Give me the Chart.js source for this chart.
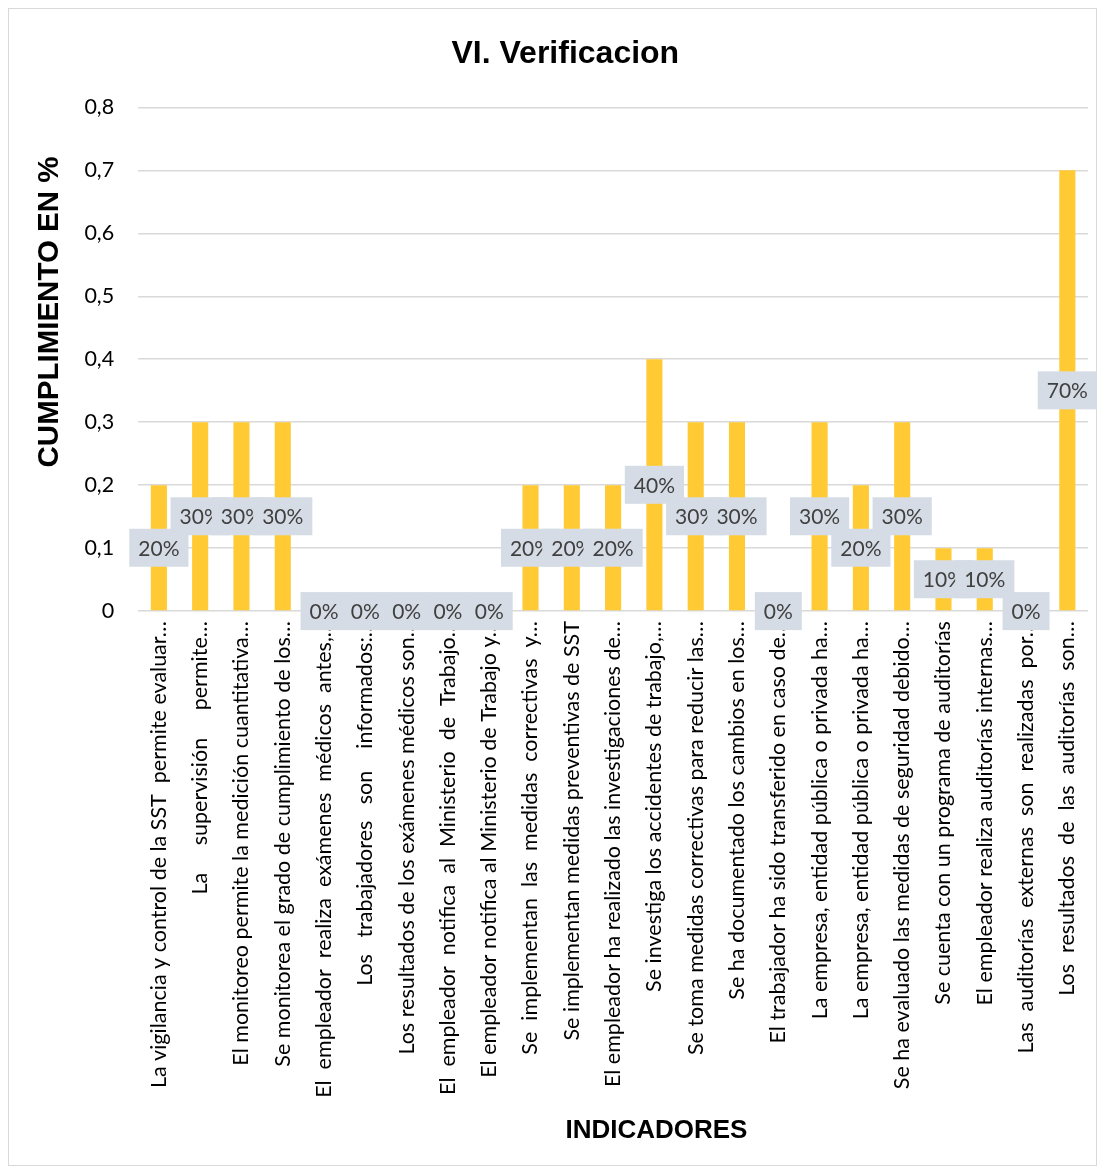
<!DOCTYPE html>
<html>
<head>
<meta charset="utf-8">
<script src="https://cdn.jsdelivr.net/npm/chart.js@4"></script>
<style>
  html, body { margin: 0; padding: 0; background: #fff; }
  #wrap { position: relative; width: 1105px; height: 1171px; }
</style>
</head>
<body>
<div id="wrap"><canvas id="myChart" width="1105" height="1171"></canvas></div>
<script>
// Indicator labels (as truncated in the original)
const indicadores = [
    'La vigilancia y control de la SST  permite evaluar…',
    'La     supervisión     permite…',
    'El monitoreo permite la medición cuantitativa…',
    'Se monitorea el grado de cumplimiento de los…',
    'El  empleador  realiza  exámenes  médicos  antes,…',
    'Los   trabajadores   son    informados:…',
    'Los resultados de los exámenes médicos son…',
    'El  empleador  notifica  al  Ministerio  de  Trabajo…',
    'El empleador notifica al Ministerio de Trabajo y…',
    'Se  implementan  las  medidas  correctivas  y…',
    'Se implementan medidas preventivas de SST',
    'El empleador ha realizado las investigaciones de…',
    'Se investiga los accidentes de trabajo,…',
    'Se toma medidas correctivas para reducir las…',
    'Se ha documentado los cambios en los…',
    'El trabajador ha sido transferido en caso de…',
    'La empresa, entidad pública o privada ha…',
    'La empresa, entidad pública o privada ha…',
    'Se ha evaluado las medidas de seguridad debido…',
    'Se cuenta con un programa de auditorías',
    'El empleador realiza auditorías internas…',
    'Las  auditorías  externas  son  realizadas  por…',
    'Los  resultados  de  las  auditorías  son…'
];

// Compliance values (fraction)
const cumplimiento = [0.2, 0.3, 0.3, 0.3, 0, 0, 0, 0, 0, 0.2, 0.2, 0.2, 0.4, 0.3, 0.3, 0, 0.3, 0.2, 0.3, 0.1, 0.1, 0, 0.7];

const yMin = 0, yMax = 0.8, yStep = 0.1;

// Outer frame around the whole chart
const framePlugin = {
    id: 'frame',
    beforeDraw(chart) {
        const c = chart.ctx;
        c.save();
        c.fillStyle = '#ffffff';
        c.fillRect(0, 0, chart.width, chart.height);
        c.strokeStyle = '#d9d9d9';
        c.lineWidth = 1;
        c.strokeRect(8.5, 8.5, chart.width - 17, chart.height - 14);
        c.restore();
    }
};

// Percentage labels in grey boxes, centered on each bar
const boxLabels = {
    id: 'boxLabels',
    afterDatasetsDraw(chart) {
        const c = chart.ctx;
        const meta = chart.getDatasetMeta(0);
        c.save();
        c.font = '21px Lato';
        c.textAlign = 'center';
        c.textBaseline = 'middle';
        meta.data.forEach((bar, i) => {
            const txt = Math.round(cumplimiento[i] * 100) + '%';
            const w = c.measureText(txt).width + 18;
            const h = 38;
            const cy = (bar.y + bar.base) / 2;
            c.fillStyle = '#d6dce5';
            c.fillRect(bar.x - w / 2, cy - h / 2, w, h);
            c.fillStyle = '#404040';
            c.fillText(txt, bar.x, cy + 1);
        });
        c.restore();
    }
};

let ctx = document.getElementById('myChart').getContext('2d');
let myChart = new Chart(ctx, {
    type: 'bar',
    data: {
        labels: indicadores,
        datasets: [{
            label: 'Cumplimiento',
            data: cumplimiento,
            backgroundColor: '#ffca33',
            borderWidth: 0,
            categoryPercentage: 1,
            barPercentage: 0.39
        }]
    },
    plugins: [framePlugin, boxLabels],
    options: {
        responsive: false,
        animation: false,
        layout: {
            padding: { left: 16, right: 17, top: 0, bottom: 12 }
        },
        plugins: {
            legend: { display: false },
            tooltip: { enabled: false },
            title: {
                display: true,
                text: '   VI. Verificacion',
                color: '#000',
                font: { family: 'Liberation Sans', size: 32, weight: 'bold' },
                padding: { top: 35, bottom: 34 }
            }
        },
        scales: {
            x: {
                grid: { display: false, drawTicks: false },
                border: { display: false },
                ticks: {
                    autoSkip: false,
                    minRotation: 90,
                    maxRotation: 90,
                    padding: 10,
                    color: '#000',
                    font: { family: 'Lato', size: 21.5 }
                },
                title: {
                    display: true,
                    text: '            INDICADORES',
                    color: '#000',
                    font: { family: 'Liberation Sans', size: 26, weight: 'bold' },
                    padding: { top: 7, bottom: 13 }
                }
            },
            y: {
                min: yMin,
                max: yMax,
                grid: { color: '#d9d9d9', lineWidth: 1.5, drawTicks: false },
                border: { display: false },
                ticks: {
                    stepSize: yStep,
                    padding: 24,
                    color: '#000',
                    font: { family: 'Lato', size: 21.5 },
                    callback: function (value) {
                        return value === 0 ? '0' : value.toFixed(1).replace('.', ',');
                    }
                },
                title: {
                    display: true,
                    align: 'end',
                    text: 'CUMPLIMIENTO EN %      ',
                    color: '#000',
                    font: { family: 'Liberation Sans', size: 29.5, weight: 'bold' },
                    padding: { top: 16, bottom: -7 }
                }
            }
        }
    }
});
</script>
</body>
</html>
